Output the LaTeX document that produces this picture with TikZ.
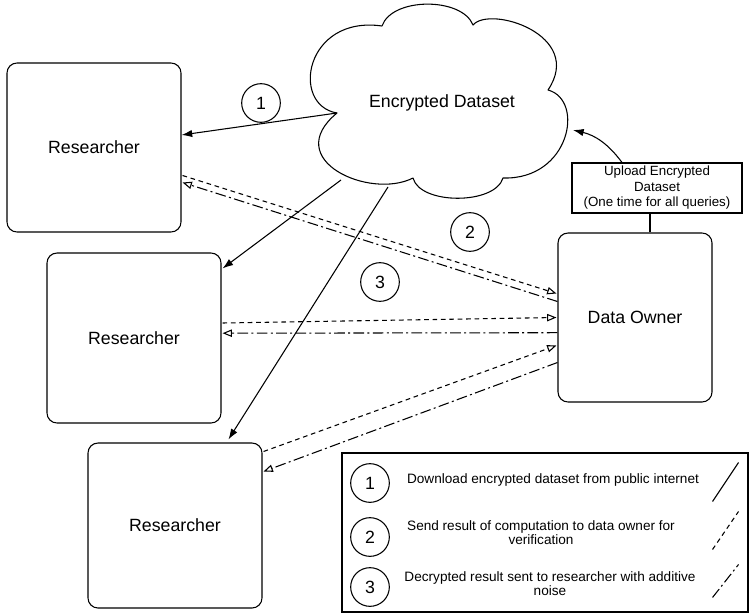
\documentclass[tikz,border=0pt]{standalone}
\usepackage{fontspec}
\setmainfont{Liberation Sans}
\usetikzlibrary{arrows.meta,calc}
\begin{document}
\begin{tikzpicture}[x=0.75pt,y=-0.75pt,
  line width=0.8pt,
  every node/.style={font=\fontsize{13.3}{15}\selectfont},
  actor/.style={draw,rounded corners=7.5pt,line width=0.8pt},
  num/.style={draw,circle,minimum size=29pt,inner sep=0pt,line width=0.8pt},
  small/.style={font=\fontsize{10}{11.6}\selectfont,align=center},
  legtext/.style={font=\fontsize{10.2}{10.6}\selectfont,align=center},
  solidarrow/.style={-{Latex[length=8pt,width=5.5pt]}},
  dashline/.style={dash pattern=on 3.5pt off 2.8pt},
  dashdotline/.style={dash pattern=on 8pt off 2.5pt on 1.5pt off 2.5pt},
  openarrow/.style={-{Triangle[open,length=7pt,width=5.5pt]}}
]
\useasboundingbox (0,0) rectangle (749,614);

% cloud
\coordinate (dipL) at (337,113);
\coordinate (dipTL) at (382,26);
\coordinate (dipTR) at (473,25);
\coordinate (dipR) at (548,90);
\coordinate (dipBR) at (503,178);
\coordinate (dipBL) at (413,178);
\draw[line join=round] (dipL)
  .. controls (290,105) and (305,15) .. (dipTL)
  .. controls (392,-3) and (462,-3) .. (dipTR)
  .. controls (490,5) and (585,35) .. (dipR)
  .. controls (585,100) and (570,180) .. (dipBR)
  .. controls (495,205) and (420,205) .. (dipBL)
  .. controls (370,200) and (280,160) .. (dipL) -- cycle;
\node (cloud) at (442,103) {Encrypted Dataset};

% nodes
\node[actor,minimum width=130.5pt,minimum height=126.75pt] (r1) at (94,147.5) {Researcher};
\node[actor,minimum width=130.5pt,minimum height=127.5pt] (r2) at (134,338) {Researcher};
\node[actor,minimum width=130.5pt,minimum height=123.75pt] (r3) at (175,525.5) {Researcher};
\node[actor,minimum width=115.5pt,minimum height=126.75pt] (do) at (635,317.5) {Data Owner};
\node[draw,small,minimum width=127.5pt,minimum height=37.5pt,inner sep=1pt] (up) at (657,188) {Upload Encrypted\\Dataset\\(One time for all queries)};

\node[num] (c1) at (261,103) {1};
\node[num] (c2) at (470,232) {2};
\node[num] (c3) at (380,282) {3};

% legend
\node[draw,minimum width=304.5pt,minimum height=119.25pt] (leg) at (545,532.5) {};
\node[num] (l1) at (370,483) {1};
\node[num] (l2) at (370,537) {2};
\node[num] (l3) at (370,587) {3};
\node[legtext] (t1) at (553,480) {Download encrypted dataset from public internet};
\node[legtext] (t2) at (541,533) {Send result of computation to data owner for\\verification};
\node[legtext] (t3) at (550,584) {Decrypted result sent to researcher with additive\\noise};
\draw ($(leg.north east)+(-36,49)$) -- ($(leg.north east)+(-10,10)$);
\draw[dashline] ($(leg.north east)+(-36,97)$) -- ($(leg.north east)+(-10,59)$);
\draw[dashdotline] ($(leg.north east)+(-36,145)$) -- ($(leg.north east)+(-10,112)$);

% solid arrows from cloud
\draw[solidarrow] (dipL) -- ($(r1.east)+(0,-12.5)$);
\draw[solidarrow] ($(cloud.center)+(-101,77)$) -- ($(r2.north east)+(1,16)$);
\draw[solidarrow] ($(cloud.center)+(-54,84)$) -- ($(r3.north west)+(141,-3)$);

% upload
\draw ($(do.north)+(15,0)$) -- ($(up.south)+(-7,0)$);
\draw[solidarrow] ($(up.north)+(-35,0)$) to[bend right=20] ($(cloud.center)+(131,27)$);

% researcher 1 <-> data owner
\draw[dashline,openarrow] ($(r1.east)+(1,28)$) -- ($(do.west)+(-1,-24)$);
\draw[dashdotline,openarrow] ($(do.west)+(0,-16)$) -- ($(r1.east)+(1,35)$);
% researcher 2
\draw[dashline,openarrow] ($(r2.east)+(1,-15)$) -- ($(do.west)+(-1,0)$);
\draw[dashdotline,openarrow] ($(do.west)+(0,15.2)$) -- ($(r2.east)+(1,-4.8)$);
% researcher 3
\draw[dashline,openarrow] ($(r3.east)+(1,-74)$) -- ($(do.west)+(-1,28)$);
\draw[dashdotline,openarrow] ($(do.west)+(0,45)$) -- ($(r3.east)+(1,-54)$);
\end{tikzpicture}
\end{document}
